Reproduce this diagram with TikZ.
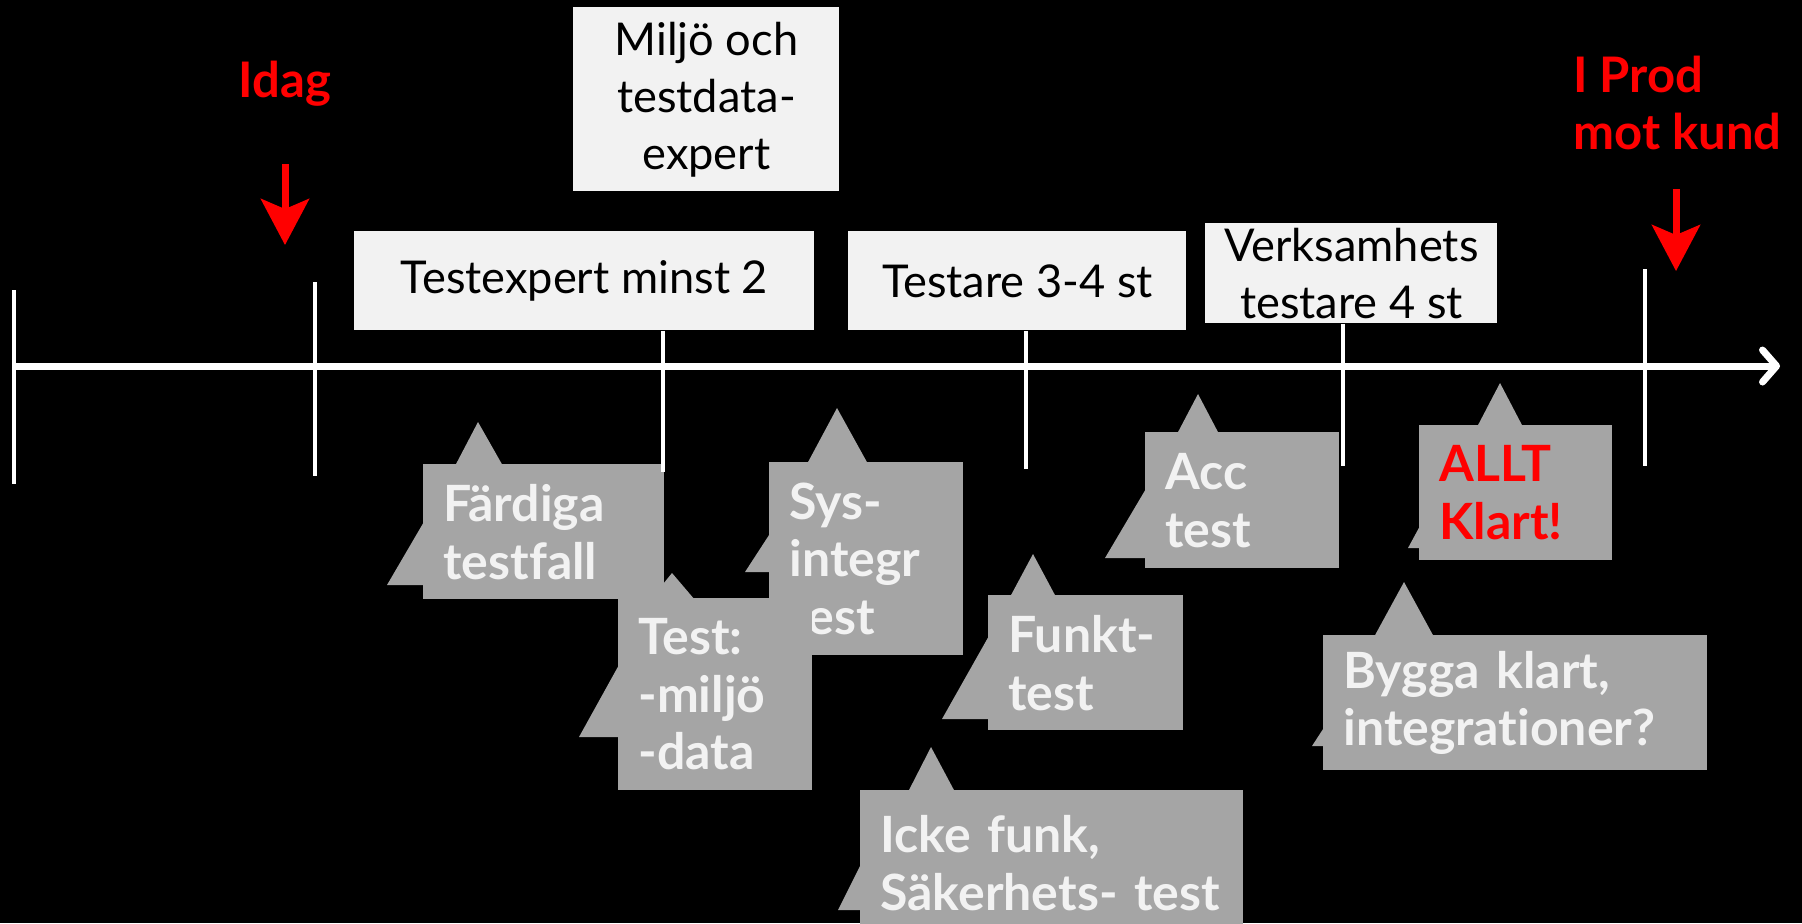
\documentclass[tikz,border=0pt]{standalone}
\usepackage{fontspec}
\setmainfont[Ligatures={NoCommon,NoRare}]{Lato}
\usetikzlibrary{arrows.meta}
\definecolor{bxfill}{HTML}{F2F2F2}
\definecolor{cofill}{HTML}{A5A5A5}
\definecolor{cotext}{HTML}{F2F2F2}
\definecolor{redc}{HTML}{FF0000}
\begin{document}
\begin{tikzpicture}[x=0.5pt,y=-0.5pt,
  topbox/.style={fill=bxfill, draw=none, text=black, font=\fontsize{22.6}{28.5}\selectfont, align=center, inner sep=0pt, anchor=north west},
  cobox/.style={fill=cofill, draw=none, text=cotext, font=\bfseries\fontsize{25}{28.8}\selectfont, align=left, inner xsep=10pt, inner ysep=0pt, anchor=north west},
  cotip/.style={fill=cofill},
  axisline/.style={white, line width=3.5pt, -{Straight Barb[length=7pt,width=16pt,line cap=round,line join=round]}},
  tickline/.style={white, line width=2.2pt},
  redarrow/.style={redc, line width=3.5pt, -{Stealth[length=23pt,width=24pt,inset=5pt]}},
  redlabel/.style={text=redc, font=\bfseries\fontsize{24.5}{28.5}\selectfont, align=left, inner sep=0pt}]
\fill[black] (0,0) rectangle (1802,923);
\useasboundingbox (0,0) rectangle (1802,923);
\clip (0,0) rectangle (1802,923);

% top boxes
\node[topbox, minimum width=133pt, minimum height=92pt] (mi) at (573,7) {Miljö och\\testdata-\\expert};
\node[topbox, minimum width=230pt, minimum height=49.5pt] (te) at (354,231) {Testexpert minst 2};
\node[topbox, minimum width=169pt, minimum height=49.5pt] (ts) at (848,231) {Testare 3-4 st};
\node[topbox, minimum width=146pt, minimum height=50pt] (ve) at (1205,223) {Verksamhets\\testare 4 st};

% red labels and arrows
\node[redlabel, anchor=base] (idag) at (285,97) {Idag};
\coordinate (idagA) at (285,164);
\coordinate (idagB) at (285,245);
\draw[redarrow] (idagA) -- (idagB);
\node[redlabel, anchor=north west] (prod) at (1573,56) {I Prod\\mot kund};
\coordinate (prodA) at (1676,189);
\coordinate (prodB) at (1676,271);
\draw[redarrow] (prodA) -- (prodB);

% axis
\coordinate (axA) at (14,366);
\coordinate (axB) at (1780,366);
\draw[axisline] (axA) -- (axB);

% callouts
\fill[cotip] (455,466) -- (478,422) -- (503,466) -- cycle;
\fill[cotip] (425,520) -- (387,585) -- (425,585) -- cycle;
\node[cobox, text width=100.5pt, minimum height=67.5pt] (fa) at (423,464) {Färdiga\\testfall};

\fill[cotip] (807,464) -- (837,408) -- (868,464) -- cycle;
\fill[cotip] (771,532) -- (745,572) -- (771,572) -- cycle;
\node[cobox, text width=77pt, minimum height=96.5pt] (sy) at (769,462) {Sys-\\integr\\test};

\fill[cotip] (650,600) -- (672,573) -- (695,600) -- cycle;
\fill[cotip] (620,663) -- (579,737) -- (620,737) -- cycle;
\node[cobox, text width=77pt, minimum height=96pt] (tm) at (618,598) {Test:\\-miljö\\-data};

\fill[cotip] (1010,597) -- (1033,554) -- (1056,597) -- cycle;
\fill[cotip] (990,634) -- (942,719) -- (990,719) -- cycle;
\node[cobox, text width=77.5pt, minimum height=67.5pt] (fu) at (988,595) {Funkt-\\test};

\fill[cotip] (908,792) -- (931,747) -- (955,792) -- cycle;
\fill[cotip] (862,862) -- (838,910) -- (862,910) -- cycle;
\node[cobox, text width=171.5pt, minimum height=72.5pt] (ic) at (860,790) {Icke funk,\\Säkerhets- test};

\fill[cotip] (1177,434) -- (1198,394) -- (1219,434) -- cycle;
\fill[cotip] (1147,487) -- (1105,558) -- (1147,558) -- cycle;
\node[cobox, text width=77pt, minimum height=68pt] (ac) at (1145,432) {Acc\\test};

\fill[cotip] (1477,427) -- (1500,383) -- (1523,427) -- cycle;
\fill[cotip] (1421,524) -- (1408,548) -- (1421,548) -- cycle;
\node[cobox, text=redc, text width=76.5pt, minimum height=67.5pt] (al) at (1419,425) {ALLT\\Klart!};

\fill[cotip] (1374,637) -- (1404,582) -- (1434,637) -- cycle;
\fill[cotip] (1325,726) -- (1312,746) -- (1325,746) -- cycle;
\node[cobox, text width=172pt, minimum height=67.5pt] (by) at (1323,635) {Bygga klart,\\integrationer?};

% ticks
\coordinate (t1a) at (14,290);   \coordinate (t1b) at (14,484);
\coordinate (t2a) at (315,282);  \coordinate (t2b) at (315,476);
\coordinate (t3b) at (663,472);
\coordinate (t4b) at (1026,469);
\coordinate (t5b) at (1343,466);
\coordinate (t6a) at (1645,269); \coordinate (t6b) at (1645,466);
\draw[tickline] (t1a) -- (t1b);
\draw[tickline] (t2a) -- (t2b);
\draw[tickline] (te.south -| t3b) -- (t3b);
\draw[tickline] (ts.south -| t4b) -- (t4b);
\draw[tickline] (ve.south -| t5b) -- (t5b);
\draw[tickline] (t6a) -- (t6b);
\end{tikzpicture}
\end{document}
